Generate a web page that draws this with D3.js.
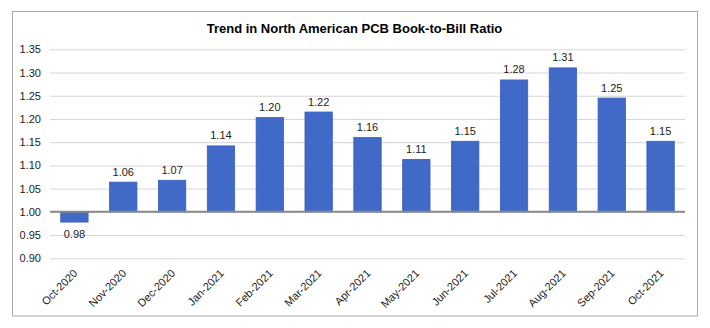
<!DOCTYPE html>
<html>
<head>
<meta charset="utf-8">
<script src="https://cdn.jsdelivr.net/npm/d3@7"></script>
<style>
  html, body { margin: 0; padding: 0; background: #fff; }
  svg { display: block; font-family: "Liberation Sans", Arial, sans-serif; }
</style>
</head>
<body>
<svg id="chart" width="710" height="328"></svg>
<script>
const categories = ["Oct-2020","Nov-2020","Dec-2020","Jan-2021","Feb-2021","Mar-2021","Apr-2021","May-2021","Jun-2021","Jul-2021","Aug-2021","Sep-2021","Oct-2021"];
const values = [0.978, 1.064, 1.068, 1.142, 1.203, 1.215, 1.160, 1.113, 1.152, 1.284, 1.310, 1.245, 1.152];
const valueLabels = ["0.98","1.06","1.07","1.14","1.20","1.22","1.16","1.11","1.15","1.28","1.31","1.25","1.15"];
const yTicks = [0.90, 0.95, 1.00, 1.05, 1.10, 1.15, 1.20, 1.25, 1.30, 1.35];
const title = "Trend in North American PCB Book-to-Bill Ratio";
const baselineValue = 1.00;

const svg = d3.select("#chart");
const plot = { left: 50, right: 685, top: 49.3, bottom: 258.3 };

// outer border
svg.append("rect")
  .attr("x", 12.5).attr("y", 11.5)
  .attr("width", 685).attr("height", 304.5)
  .attr("fill", "#fff").attr("stroke", "#a9a9a9").attr("stroke-width", 1);

// title
svg.append("text")
  .attr("x", 354.5).attr("y", 33)
  .attr("text-anchor", "middle")
  .attr("font-size", "13px").attr("font-weight", "bold")
  .attr("fill", "#000")
  .text(title);

const x = d3.scaleBand().domain(categories).range([plot.left, plot.right]).paddingInner(0.44).paddingOuter(0.22);
const y = d3.scaleLinear().domain([0.90, 1.35]).range([plot.bottom, plot.top]);

// gridlines + y labels via axis
const yAxis = d3.axisLeft(y).tickValues(yTicks).tickFormat(d3.format(".2f"))
  .tickSize(-(plot.right - plot.left)).tickPadding(9);
const gy = svg.append("g").attr("transform", `translate(${plot.left},0)`).call(yAxis);
gy.select(".domain").remove();
gy.selectAll(".tick line").attr("stroke", "#d6d6d6").attr("stroke-width", 1);
gy.selectAll(".tick text").attr("font-size", "11px").attr("fill", "#222")
  .attr("font-family", "Liberation Sans, Arial, sans-serif");

// bars
svg.append("g").selectAll("rect").data(values).join("rect")
  .attr("x", (d, i) => x(categories[i]))
  .attr("width", x.bandwidth())
  .attr("y", d => Math.min(y(d), y(baselineValue)))
  .attr("height", d => Math.abs(y(d) - y(baselineValue)))
  .attr("fill", "#4169c8")
  .attr("stroke", "#3a5ebd").attr("stroke-width", 0.8);

// baseline at 1.00
svg.append("line")
  .attr("x1", plot.left).attr("x2", plot.right)
  .attr("y1", y(baselineValue)).attr("y2", y(baselineValue))
  .attr("stroke", "#8a8a8a").attr("stroke-width", 2);

// value labels
svg.append("g").selectAll("text").data(values).join("text")
  .attr("x", (d, i) => x(categories[i]) + x.bandwidth() / 2)
  .attr("y", d => d >= baselineValue ? y(d) - 6.5 : y(d) + 16)
  .attr("text-anchor", "middle")
  .attr("font-size", "11px").attr("fill", "#222")
  .text((d, i) => valueLabels[i]);

// x axis labels (rotated)
const xAxis = d3.axisBottom(x).tickSize(0).tickPadding(0);
const gx = svg.append("g").attr("transform", `translate(0,${plot.bottom})`).call(xAxis);
gx.select(".domain").remove();
gx.selectAll(".tick text")
  .attr("font-size", "11px").attr("fill", "#222")
  .attr("font-family", "Liberation Sans, Arial, sans-serif")
  .attr("text-anchor", "end")
  .attr("transform", "translate(1,13) rotate(-45)")
  .attr("dy", "0.35em").attr("y", 0).attr("x", 0);
</script>
</body>
</html>
